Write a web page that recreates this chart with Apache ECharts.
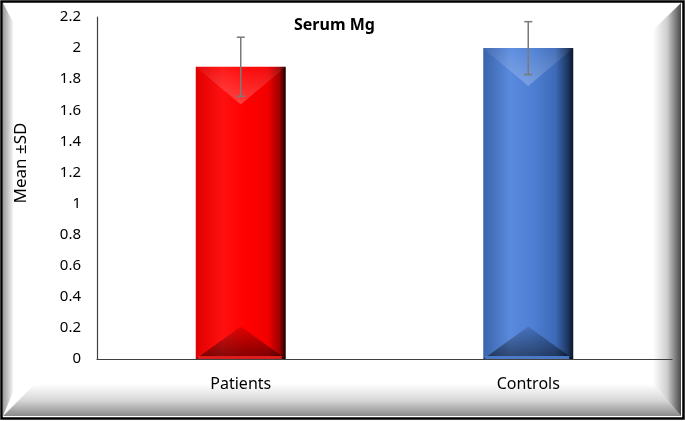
<!DOCTYPE html>
<html>
<head>
<meta charset="utf-8">
<script src="https://cdn.jsdelivr.net/npm/echarts@6/dist/echarts.min.js"></script>
<style>
  html, body { margin: 0; padding: 0; background: #fff; }
  #chart { width: 685px; height: 421px; }
</style>
</head>
<body>
<div id="chart"></div>
<script>
// data
const categories = ['Patients', 'Controls'];
const means = [1.88, 2.0];
const sds = [0.19, 0.17];
const yMin = 0, yMax = 2.2, yStep = 0.2;

// base gradient + bevel overlays per bar
const barColors = [
  {
    body: ['#e00000', '#ff1010', '#ff0000', '#f20000', '#a00000', '#1a0000'],
    bottomStrip: '#e52020'
  },
  {
    body: ['#3a64aa', '#5a8ade', '#4d7fd4', '#3e6bb8', '#1f3a68', '#0b1526'],
    bottomStrip: '#4f7fcf'
  }
];

const chart = echarts.init(document.getElementById('chart'));

function bodyGradient(c) {
  return new echarts.graphic.LinearGradient(0, 0, 1, 0, [
    { offset: 0, color: c[0] },
    { offset: 0.3, color: c[1] },
    { offset: 0.55, color: c[2] },
    { offset: 0.8, color: c[3] },
    { offset: 0.93, color: c[4] },
    { offset: 1, color: c[5] }
  ]);
}

function renderBar(params, api) {
  const idx = api.value(0);
  const top = api.coord([idx, api.value(1)]);
  const base = api.coord([idx, 0]);
  const w = api.size([1, 0])[0] * 0.313;
  const xc = top[0];
  const x0 = xc - w / 2, x1 = xc + w / 2;
  const yt = top[1], yb = base[1];
  const dTop = w * 0.42, dBot = w * 0.36;
  const col = barColors[idx];
  return {
    type: 'group',
    children: [
      {
        type: 'rect',
        shape: { x: x0, y: yt, width: w, height: yb - yt },
        style: { fill: bodyGradient(col.body) }
      },
      {
        type: 'polygon',
        shape: { points: [[x0, yt], [x1, yt], [xc, yt + dTop]] },
        style: {
          fill: new echarts.graphic.LinearGradient(0, 0, 0, 1, [
            { offset: 0, color: 'rgba(255,255,255,0.04)' },
            { offset: 1, color: 'rgba(255,255,255,0.24)' }
          ])
        }
      },
      {
        type: 'polygon',
        shape: { points: [[x0, yb], [x1, yb], [xc, yb - dBot]] },
        style: {
          fill: new echarts.graphic.LinearGradient(0, 0, 0, 1, [
            { offset: 0, color: 'rgba(0,0,0,0.12)' },
            { offset: 1, color: 'rgba(0,0,0,0.5)' }
          ])
        }
      },
      {
        type: 'rect',
        shape: { x: x0 + 2, y: yb - 3, width: w - 6, height: 3 },
        style: { fill: col.bottomStrip, opacity: 0.9 }
      }
    ]
  };
}

function renderErr(params, api) {
  const idx = api.value(0);
  const m = api.value(1), sd = api.value(2);
  const hi = api.coord([idx, m + sd]);
  const lo = api.coord([idx, m - sd]);
  const cap = 4;
  const st = { stroke: '#7a7a7a', lineWidth: 1.5 };
  return {
    type: 'group',
    children: [
      { type: 'line', shape: { x1: hi[0], y1: hi[1], x2: lo[0], y2: lo[1] }, style: st },
      { type: 'line', shape: { x1: hi[0] - cap, y1: hi[1], x2: hi[0] + cap, y2: hi[1] }, style: st },
      { type: 'line', shape: { x1: lo[0] - cap, y1: lo[1], x2: lo[0] + cap, y2: lo[1] }, style: st }
    ]
  };
}

const font = "'Noto Sans', 'Open Sans', sans-serif";

const option = {
  backgroundColor: '#fff',
  animation: false,
  title: {
    text: 'Serum Mg',
    left: 289,
    top: 12,
    textStyle: { fontFamily: font, fontSize: 16, fontWeight: 'bold', color: '#000' }
  },
  grid: { left: 97, right: 13, top: 17, bottom: 62 },
  xAxis: {
    type: 'category',
    data: categories,
    axisLine: { lineStyle: { color: '#404040', width: 1.2 } },
    axisTick: { show: false },
    axisLabel: { margin: 17, fontFamily: font, fontSize: 16, color: '#000' }
  },
  yAxis: {
    type: 'value',
    min: yMin,
    max: yMax,
    interval: yStep,
    axisLine: { show: true, lineStyle: { color: '#404040', width: 1.2 } },
    axisTick: { show: false },
    splitLine: { show: false },
    axisLabel: {
      margin: 16,
      fontFamily: font,
      fontSize: 15,
      color: '#000',
      formatter: v => String(Math.round(v * 10) / 10)
    }
  },
  graphic: [
    {
      type: 'polygon',
      shape: { points: [[3, 3], [13, 22], [13, 392], [3, 416]] },
      style: {
        fill: new echarts.graphic.LinearGradient(0, 0, 1, 0, [
          { offset: 0, color: '#9a9a9a' },
          { offset: 1, color: '#f4f4f4' }
        ])
      }
    },
    {
      type: 'polygon',
      shape: { points: [[3, 416], [35, 384], [653, 384], [681, 416]] },
      style: {
        fill: new echarts.graphic.LinearGradient(0, 0, 0, 1, [
          { offset: 0, color: '#ffffff' },
          { offset: 0.5, color: '#d8d8d8' },
          { offset: 1, color: '#8a8a8a' }
        ])
      }
    },
    {
      type: 'polygon',
      shape: { points: [[653, 30], [681, 3], [681, 416], [653, 384]] },
      style: {
        fill: new echarts.graphic.LinearGradient(0, 0, 1, 0, [
          { offset: 0, color: '#ffffff' },
          { offset: 0.5, color: '#cfcfcf' },
          { offset: 1, color: '#4a4a4a' }
        ])
      }
    },
    {
      type: 'rect',
      shape: { x: 1.5, y: 1.5, width: 682, height: 417 },
      style: { fill: 'none', stroke: '#000', lineWidth: 2.5 }
    },
    {
      type: 'text',
      x: 21,
      y: 163,
      rotation: Math.PI / 2,
      style: {
        text: 'Mean ±SD',
        fontFamily: font,
        fontSize: 17,
        fill: '#000',
        textAlign: 'center',
        textVerticalAlign: 'middle'
      }
    }
  ],
  series: [
    {
      type: 'custom',
      renderItem: renderBar,
      encode: { x: 0, y: 1 },
      data: means.map((m, i) => [i, m]),
      z: 2
    },
    {
      type: 'custom',
      renderItem: renderErr,
      encode: { x: 0, y: 1 },
      data: means.map((m, i) => [i, m, sds[i]]),
      z: 3
    }
  ]
};

chart.setOption(option);
</script>
</body>
</html>
